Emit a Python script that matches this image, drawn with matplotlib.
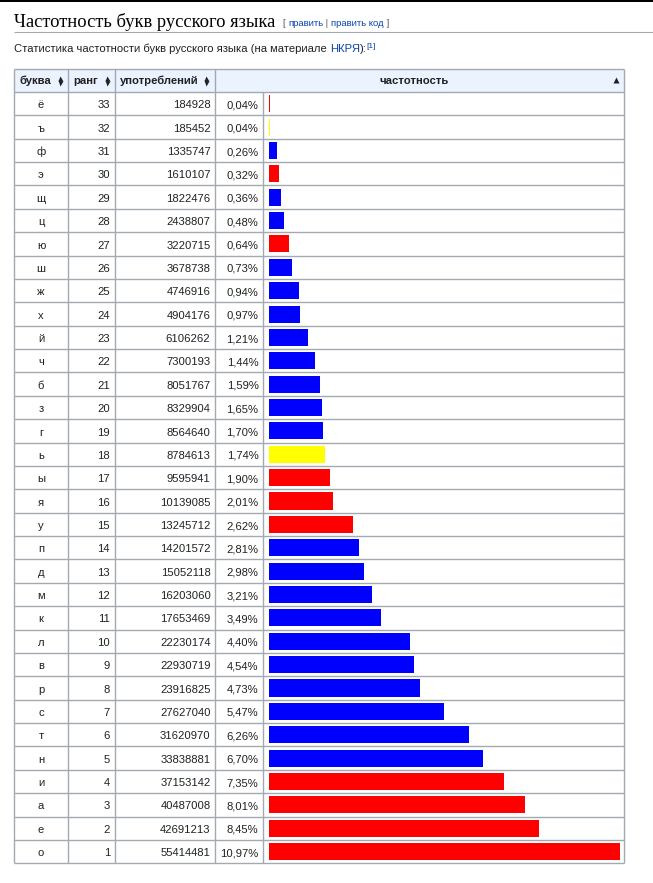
import numpy as np
import matplotlib
matplotlib.use('Agg')
import matplotlib.pyplot as plt

# данные таблицы (НКРЯ)
letters = ['ё', 'ъ', 'ф', 'э', 'щ', 'ц', 'ю', 'ш', 'ж', 'х', 'й', 'ч', 'б', 'з', 'г', 'ь',
           'ы', 'я', 'у', 'п', 'д', 'м', 'к', 'л', 'в', 'р', 'с', 'т', 'н', 'и', 'а', 'е', 'о']
ranks = list(range(33, 0, -1))
counts = [184928, 185452, 1335747, 1610107, 1822476, 2438807, 3220715, 3678738, 4746916,
          4904176, 6106262, 7300193, 8051767, 8329904, 8564640, 8784613, 9595941, 10139085,
          13245712, 14201572, 15052118, 16203060, 17653469, 22230174, 22930719, 23916825,
          27627040, 31620970, 33838881, 37153142, 40487008, 42691213, 55414481]
freq = [0.04, 0.04, 0.26, 0.32, 0.36, 0.48, 0.64, 0.73, 0.94, 0.97, 1.21, 1.44, 1.59, 1.65,
        1.70, 1.74, 1.90, 2.01, 2.62, 2.81, 2.98, 3.21, 3.49, 4.40, 4.54, 4.73, 5.47, 6.26,
        6.70, 7.35, 8.01, 8.45, 10.97]
headers = ['буква', 'ранг', 'употреблений', 'частотность']

vowels = 'аеёиоуыэюя'
signs = 'ъь'
colors = ['#ff0000' if c in vowels else '#ffff00' if c in signs else '#0000ff' for c in letters]

W, H = 653, 883
txt = '#202122'
grid = '#a2a9b1'
link = '#0645ad'
sans = 'Liberation Sans'
fs = 8.1

# колонки и строки таблицы (в пикселях)
cols = [14, 68, 115, 215, 263, 624]
top, head_bot, bot = 68.5, 92, 863.3
n = len(letters)
rh = (bot - head_bot) / n

fig = plt.figure(figsize=(W / 100, H / 100), dpi=100)
ax = fig.add_axes([0, 0, 1, 1])
ax.set_xlim(0, W)
ax.set_ylim(H, 0)
ax.axis('off')
renderer = fig.canvas.get_renderer()


def run(x, y, parts, **kw):
    # кусочки текста подряд, каждый своим цветом
    for s, c, dy, size in parts:
        t = ax.text(x, y + dy, s, color=c, fontsize=size, va='baseline', **kw)
        x += t.get_window_extent(renderer).width
    return x


# чёрная полоса сверху
ax.axhspan(0, 2, color='black', lw=0)

# заголовок раздела
ax.text(14, 27, 'Частотность букв русского языка', family='Liberation Serif', fontsize=13.3,
        color='black', va='baseline')
g = '#54595d'
run(283, 26, [('[ ', g, 0, 6.8), ('править', link, 0, 6.8), (' | ', g, 0, 6.8),
              ('править код', link, 0, 6.8), (' ]', g, 0, 6.8)], family=sans)
ax.hlines(32.3, 14, W, color=grid, lw=0.8)

run(14, 51.5, [('Статистика частотности букв русского языка (на материале ', txt, 0, 8.1),
               ('НКРЯ', link, 0, 8.1), ('):', txt, 0, 8.1), ('[1]', link, -4, 6.0)],
    family=sans)

# шапка таблицы
ax.fill_between([cols[0], cols[-1]], top, head_bot, color='#eaf3ff', lw=0)
hy = (top + head_bot) / 2
hb = 84.3
ax.text(20, hb, headers[0], family=sans, fontsize=fs, weight='bold', color=txt, va='baseline')
ax.text(73.5, hb, headers[1], family=sans, fontsize=fs, weight='bold', color=txt, va='baseline')
ax.text(120, hb, headers[2], family=sans, fontsize=fs, weight='bold', color=txt, va='baseline')
ax.text(414, hb, headers[3], family=sans, fontsize=fs, weight='bold', color=txt,
        va='baseline', ha='center')
for sx in [60, 106.8, 206]:
    ax.plot(sx, hy - 2.4, marker='^', ms=3.6, color=txt, mec='none')
    ax.plot(sx, hy + 2.4, marker='v', ms=3.6, color=txt, mec='none')
ax.plot(616, hy - 0.5, marker='^', ms=3.8, color=txt, mec='none')

# сетка
ys = head_bot + rh * np.arange(n + 1)
ax.hlines([top, head_bot], cols[0], cols[-1], color=grid, lw=1)
ax.hlines(ys[1:], cols[0], cols[-1], color=grid, lw=1)
ax.vlines([cols[0], cols[-1]], top, bot, color=grid, lw=1)
ax.vlines(cols[1:4], top, bot, color=grid, lw=1)
ax.vlines(cols[4], head_bot, bot, color=grid, lw=1)

# строки
for i in range(n):
    by = head_bot + i * rh + 16.3
    ax.text((cols[0] + cols[1]) / 2, by, letters[i], family=sans, fontsize=fs, color=txt,
            ha='center', va='baseline')
    ax.text(cols[2] - 5, by, str(ranks[i]), family=sans, fontsize=fs, color=txt,
            ha='right', va='baseline')
    ax.text(cols[3] - 4.5, by, str(counts[i]), family=sans, fontsize=fs, color=txt,
            ha='right', va='baseline')
    ax.text(cols[4] - 4.5, by, f'{freq[i]:.2f}%'.replace('.', ','), family=sans,
            fontsize=fs, color=txt, ha='right', va='baseline')

# столбцы частотности
bx = fig.add_axes([cols[4] / W, (H - bot) / H, (cols[5] - cols[4]) / W, (bot - head_bot) / H])
bx.patch.set_alpha(0)
px = 32.0
bx.set_xlim(-6 / px, (cols[5] - cols[4] - 6) / px)
bx.set_ylim(n - 0.5, -0.5)
bx.barh(np.arange(n), freq, height=0.73, color=colors, lw=0)
bx.axis('off')

fig.savefig('out.png', dpi=100)
